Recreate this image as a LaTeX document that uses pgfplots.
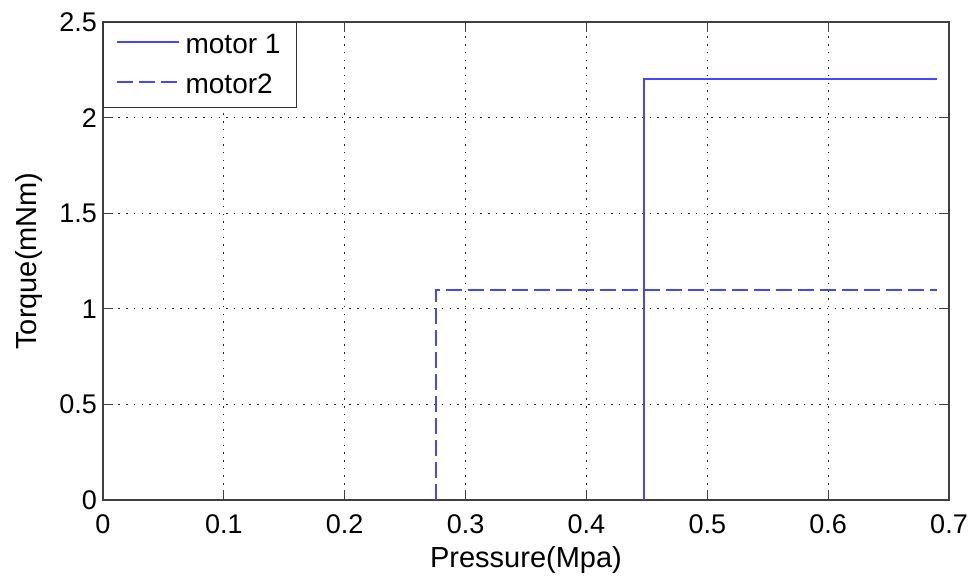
\documentclass[border=0pt]{standalone}
\usepackage{fontspec}
\setmainfont{Liberation Sans}
\usepackage{pgfplots}
\pgfplotsset{compat=1.18}
\definecolor{mblue}{RGB}{70,70,255}

\begin{document}
\begin{tikzpicture}
  \begin{axis}[
    scale only axis,
    width  = 846pt,
    height = 478pt,
    xmin = 0, xmax = 0.7,
    ymin = 0, ymax = 2.5,
    xtick = {0,0.1,...,0.7},
    ytick = {0,0.5,...,2.5},
    xticklabels = {0,0.1,0.2,0.3,0.4,0.5,0.6,0.7},
    yticklabels = {0,0.5,1,1.5,2,2.5},
    tick align = inside,
    major tick length = 10pt,
    tick style = {black!75, line width=1pt},
    axis line style = {black!75, line width=1.2pt},
    grid = major,
    grid style = {black!85, line width=1pt, dash pattern=on 1.5pt off 6.2pt},
    tick label style = {font=\fontsize{27}{30}\selectfont, inner sep=0pt},
    xticklabel style = {yshift=-14pt},
    yticklabel style = {xshift=-6pt},
    label style = {font=\fontsize{29}{32}\selectfont, inner sep=0pt},
    xlabel = {Pressure(Mpa)},
    ylabel = {Torque(mNm)},
    xlabel style = {at={(axis description cs:0.5,0)}, anchor=north, yshift=-46pt},
    ylabel style = {at={(axis description cs:-0.104,0.5)}, anchor=north},
    legend style = {at={(0,1)}, anchor=north west, draw=black!80,
      line width=1.2pt, fill=white,
      font=\fontsize{28}{30}\selectfont,
      inner xsep=12pt, inner ysep=12pt, row sep=19pt,
      nodes={inner sep=0pt, text depth=0.15em},
      cells={anchor=west}},
    legend image code/.code={%
      \draw[#1] (0pt,0.3em) -- (62pt,0.3em);},
  ]
    \addplot[draw=mblue, line width=2pt] coordinates {
      (0.4475,0) (0.4475,2.2) (0.690,2.2)
    };
    \addlegendentry{\hspace{6pt}motor 1\hspace*{4pt}}
    \addplot[draw=mblue, line width=2pt, dash pattern=on 16pt off 6pt] coordinates {
      (0.2755,0) (0.2755,1.1) (0.690,1.1)
    };
    \addlegendentry{\hspace{6pt}motor2}
  \end{axis}
  \pgfresetboundingbox
  \path[use as bounding box]
    ([shift={(-103pt,-82pt)}]current axis.south west)
    rectangle ([shift={(30pt,22pt)}]current axis.north east);
\end{tikzpicture}
\end{document}
